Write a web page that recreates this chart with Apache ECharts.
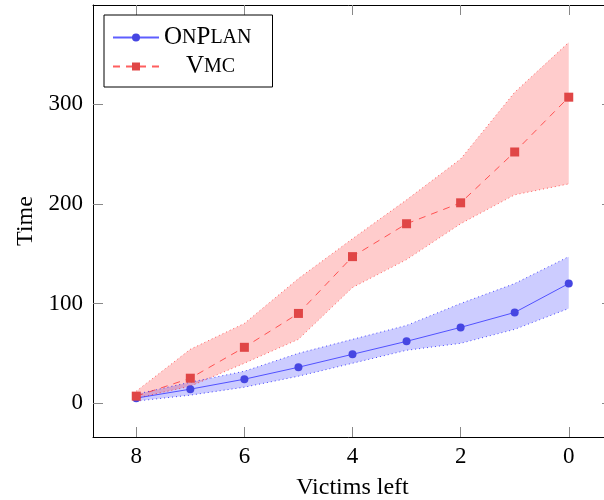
<!DOCTYPE html>
<html>
<head>
<meta charset="utf-8">
<script src="https://cdn.jsdelivr.net/npm/echarts@6/dist/echarts.min.js"></script>
<style>html,body{margin:0;padding:0;background:#fff}#c{width:604px;height:500px}</style>
</head>
<body>
<div id="c"></div>
<script>
// Data
const victimsLeft = [8, 7, 6, 5, 4, 3, 2, 1, 0];
const onPlanMean  = [5, 14, 24, 36, 49, 62, 76, 91, 120];
const onPlanUpper = [9, 21, 32, 50, 64, 78, 100, 120, 147];
const onPlanLower = [2, 8, 16, 27, 40, 53, 60, 74, 95];
const vmcMean  = [7, 25, 56, 90, 147, 180, 201, 252, 307];
const vmcUpper = [12, 54, 80, 125, 165, 204, 245, 312, 362];
const vmcLower = [5, 17, 40, 64, 116, 144, 180, 209, 220];
const xTicks = [8, 6, 4, 2, 0];
const yTicks = [0, 100, 200, 300];

const FONT = '"Liberation Serif", "DejaVu Serif", serif';
const pairs = (ys) => victimsLeft.map((x, i) => [x, ys[i]]);

function bandSeries(lower, upper, fill) {
  return {
    type: 'custom',
    silent: true,
    z: 1,
    data: victimsLeft.map((x, i) => [x, lower[i], upper[i]]),
    encode: { x: 0, y: [1, 2] },
    renderItem: function (params, api) {
      if (params.dataIndex !== 0) return null;
      const pts = [];
      for (let i = 0; i < victimsLeft.length; i++) pts.push(api.coord([victimsLeft[i], upper[i]]));
      for (let i = victimsLeft.length - 1; i >= 0; i--) pts.push(api.coord([victimsLeft[i], lower[i]]));
      return { type: 'polygon', shape: { points: pts }, style: { fill: fill } };
    }
  };
}
function edgeSeries(ys, color) {
  return {
    type: 'line', silent: true, z: 2, symbol: 'none',
    data: pairs(ys),
    lineStyle: { color: color, width: 1, type: [1, 3] }
  };
}

const chart = echarts.init(document.getElementById('c'), null, { renderer: 'canvas' });
const axisCommon = {
  type: 'value', min: -0.8, max: 8.8, inverse: true,
  splitLine: { show: false },
  axisLine: { show: true, onZero: false, lineStyle: { color: '#000', width: 1 } },
  axisTick: { show: true, inside: true, length: 10, customValues: xTicks, lineStyle: { color: '#888' } }
};
const yCommon = {
  type: 'value', min: -34, max: 399.5,
  splitLine: { show: false },
  axisLine: { show: true, onZero: false, lineStyle: { color: '#000', width: 1 } },
  axisTick: { show: true, inside: true, length: 10, customValues: yTicks, lineStyle: { color: '#888' } }
};

chart.setOption({
  animation: false,
  backgroundColor: '#fff',
  grid: { left: 93, top: 5, width: 519, height: 432, containLabel: false, outerBoundsMode: 'none' },
  xAxis: [
    Object.assign({}, axisCommon, {
      position: 'bottom',
      name: 'Victims left', nameLocation: 'middle', nameGap: 39,
      nameTextStyle: { fontFamily: FONT, fontSize: 24, color: '#000' },
      axisLabel: { show: true, customValues: xTicks, margin: 8, fontFamily: FONT, fontSize: 23, color: '#000' }
    }),
    Object.assign({}, axisCommon, { position: 'top', axisLabel: { show: false } })
  ],
  yAxis: [
    Object.assign({}, yCommon, {
      position: 'left',
      name: 'Time', nameLocation: 'middle', nameGap: 49, nameRotate: 90,
      nameTextStyle: { fontFamily: FONT, fontSize: 24, color: '#000' },
      axisLabel: { show: true, customValues: yTicks, margin: 10, fontFamily: FONT, fontSize: 23, color: '#000' }
    }),
    Object.assign({}, yCommon, { position: 'right', axisLabel: { show: false } })
  ],
  legend: {
    data: ['OnPlan', 'Vmc'],
    orient: 'vertical', left: 104, top: 15,
    backgroundColor: '#fff', borderColor: '#000', borderWidth: 1, borderRadius: 0,
    padding: [10, 21, 8, 8], itemGap: 4, itemWidth: 46, itemHeight: 10,
    formatter: function (name) {
      return name === 'OnPlan' ? 'O{s|N}P{s|LAN}' : '{sp| }V{s|MC}';
    },
    textStyle: {
      fontFamily: FONT, fontSize: 25, color: '#000',
      rich: {
        s: { fontFamily: FONT, fontSize: 20, color: '#000' },
        sp: { width: 22, fontSize: 20 }
      }
    }
  },
  series: [
    bandSeries(onPlanLower, onPlanUpper, 'rgba(0,0,255,0.2)'),
    bandSeries(vmcLower, vmcUpper, 'rgba(255,0,0,0.2)'),
    edgeSeries(onPlanUpper, 'rgba(0,0,255,0.7)'),
    edgeSeries(onPlanLower, 'rgba(0,0,255,0.7)'),
    edgeSeries(vmcUpper, 'rgba(255,0,0,0.6)'),
    edgeSeries(vmcLower, 'rgba(255,0,0,0.6)'),
    {
      name: 'OnPlan', type: 'line', z: 5, data: pairs(onPlanMean),
      symbol: 'circle', symbolSize: 8,
      itemStyle: { color: '#4646e2' },
      lineStyle: { color: 'rgba(40,40,255,0.75)', width: 1 }
    },
    {
      name: 'Vmc', type: 'line', z: 5, data: pairs(vmcMean),
      symbol: 'rect', symbolSize: 9,
      itemStyle: { color: '#e04646' },
      lineStyle: { color: 'rgba(255,40,40,0.75)', width: 1, type: [7, 6] }
    }
  ]
});
</script>
</body>
</html>
